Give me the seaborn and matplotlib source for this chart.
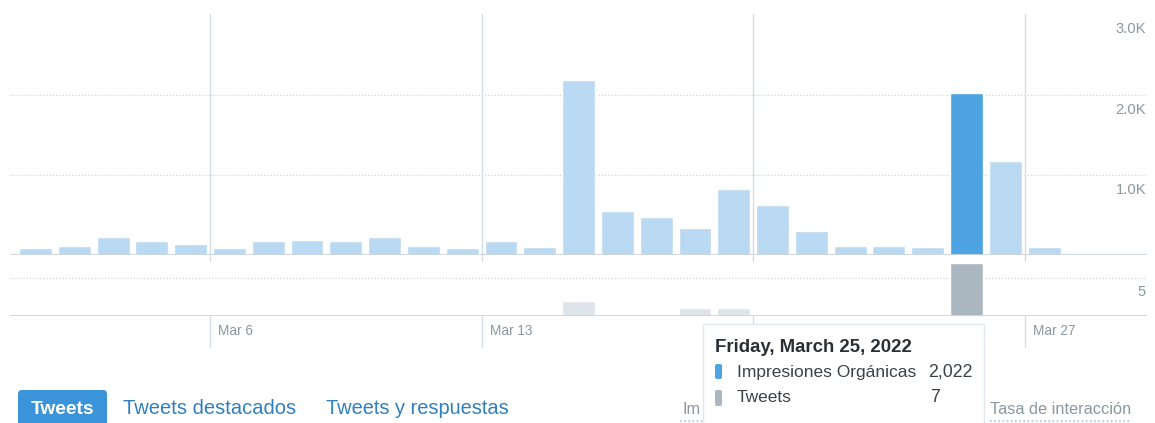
import numpy as np
import pandas as pd
import matplotlib.pyplot as plt
import seaborn as sns
from matplotlib.patches import FancyBboxPatch, Rectangle

# daily data, March 2022
days = [f"Mar {d}" for d in range(1, 29)]
impressions = [84, 116, 221, 171, 133, 84, 171, 187, 171, 221, 116, 84, 171, 100,
               2178, 553, 470, 333, 823, 620, 303, 116, 116, 100, 2022, 1172, 100, 0]
tweets = [0, 0, 0, 0, 0, 0, 0, 0, 0, 0, 0, 0, 0, 0,
          2, 0, 0, 1, 1, 0, 0, 0, 0, 0, 7, 0, 0, 0]
week_labels = ["Mar 6", "Mar 13", "Mar 20", "Mar 27"]
imp_ticks = [1000, 2000, 3000]
imp_tick_labels = ["1.0K", "2.0K", "3.0K"]
tweet_ticks = [5]
tweet_tick_labels = ["5"]
selected = "Mar 25"
tooltip_title = "Friday, March 25, 2022"

W, H = 1155, 423
BLUE_LIGHT, BLUE_SEL = "#bad9f2", "#4ea3e3"
GRAY_LIGHT, GRAY_SEL = "#dfe4ea", "#aab7c1"
GRID = "#ccd6dd"
LABEL = "#8a97a1"

sns.set_theme(style="white")
plt.rcParams["font.family"] = ["Liberation Sans", "DejaVu Sans"]

df = pd.DataFrame({"day": days, "impressions": impressions, "tweets": tweets})

fig = plt.figure(figsize=(W / 100, H / 100), dpi=100)
ax_top = fig.add_axes([10 / W, 1 - 255 / H, 1137 / W, 240.6 / H])
ax_bot = fig.add_axes([10 / W, 1 - 316 / H, 1137 / W, 54 / H])

imp_pal = [BLUE_SEL if d == selected else BLUE_LIGHT for d in days]
tw_pal = [GRAY_SEL if d == selected else GRAY_LIGHT for d in days]
sns.barplot(data=df, x="day", y="impressions", hue="day", palette=imp_pal,
            legend=False, width=0.85, saturation=1, ax=ax_top, zorder=2)
sns.barplot(data=df, x="day", y="tweets", hue="day", palette=tw_pal,
            legend=False, width=0.85, saturation=1, ax=ax_bot, zorder=2)

week_pos = [days.index(w) - 0.5 for w in week_labels]
for ax, ylim, ticks, labels, off in [
        (ax_top, (0, 3000), imp_ticks, imp_tick_labels, -15),
        (ax_bot, (0, 7.1), tweet_ticks, tweet_tick_labels, -14)]:
    ax.set_xlim(-0.655, 28.65)
    ax.set_ylim(*ylim)
    ax.set_xticks([])
    ax.set_yticks([])
    ax.set_xlabel("")
    ax.set_ylabel("")
    sns.despine(ax=ax, left=True, bottom=True)
    ax.axhline(0, color=GRID, lw=1.3, zorder=3)
    for t, lab in zip(ticks, labels):
        if t < ylim[1] * 0.99:
            ax.axhline(t, color=GRID, lw=0.9, ls=(0, (1, 1.6)), zorder=1)
        ax.annotate(lab, xy=(1, t), xycoords=("axes fraction", "data"),
                    xytext=(-1 / 1.389, off / 1.389), textcoords="offset points",
                    ha="right", va="center", fontsize=10.6, color=LABEL)

for x in week_pos:
    ax_top.axvline(x, ymin=-0.382, ymax=1.0, color="#d3dde6", lw=1.0,
                   clip_on=False, zorder=1)
for x, lab in zip(week_pos, week_labels):
    ax_bot.annotate(lab, xy=(x, 0), xycoords=("data", "axes fraction"),
                    xytext=(8 / 1.389, -15 / 1.389), textcoords="offset points",
                    ha="left", va="center", fontsize=9.8, color=LABEL)

# overlay in pixel coordinates for tabs and tooltip
ov = fig.add_axes([0, 0, 1, 1], zorder=10)
ov.set_xlim(0, W)
ov.set_ylim(H, 0)
ov.axis("off")

ov.add_patch(FancyBboxPatch((18, 390), 89, 40, boxstyle="round,pad=0,rounding_size=4",
                            fc="#3b94d9", ec="none"))
ov.text(62.5, 410, "Tweets", ha="center", va="center", fontsize=13.8, color="white",
        fontweight="bold")
ov.text(123, 409, "Tweets destacados", ha="left", va="center", fontsize=14.5,
        color="#2f7fc1")
ov.text(326, 409, "Tweets y respuestas", ha="left", va="center", fontsize=14.4,
        color="#2f7fc1")
ov.text(683, 409, "Im", ha="left", va="center", fontsize=11.8, color=LABEL)
ov.text(990, 409, "Tasa de interacción", ha="left", va="center", fontsize=11.8,
        color=LABEL)
ov.plot([680, 780], [421, 421], color="#9cc8ea", lw=1.2, ls=(0, (1, 1.5)))
ov.plot([990, 1130], [421, 421], color="#9cc8ea", lw=1.2, ls=(0, (1, 1.5)))

# tooltip
i = days.index(selected)
ov.add_patch(Rectangle((703, 324), 281, 103, fc="white", ec="#e1e8ed", lw=1.0,
                       zorder=5))
ov.text(715, 347, tooltip_title, ha="left", va="center", fontsize=13.4,
        fontweight="bold", color="#292f33", zorder=6)
ov.add_patch(FancyBboxPatch((715, 364), 7, 15, boxstyle="round,pad=0,rounding_size=2",
                            fc=BLUE_SEL, ec="none", zorder=6))
ov.add_patch(FancyBboxPatch((715, 390), 7, 16, boxstyle="round,pad=0,rounding_size=2",
                            fc=GRAY_SEL, ec="none", zorder=6))
ov.text(737, 372, "Impresiones Orgánicas", ha="left", va="center", fontsize=12.5,
        color="#3a4248", zorder=6)
ov.text(737, 398, "Tweets", ha="left", va="center", fontsize=12.5, color="#3a4248",
        zorder=6)
ov.text(928, 372, f"{impressions[i]:,}", ha="left", va="center", fontsize=12.8,
        color="#3a4248", zorder=6)
ov.text(930, 398, f"{tweets[i]}", ha="left", va="center", fontsize=12.8,
        color="#3a4248", zorder=6)

fig.savefig("out.png", dpi=100, facecolor="white")
